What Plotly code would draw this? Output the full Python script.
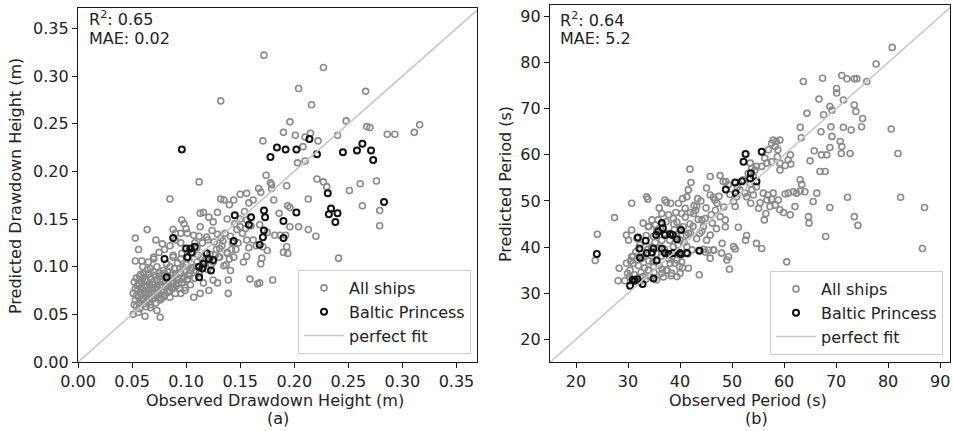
import plotly.graph_objects as go

# ---------------- Panel (a): drawdown height (m) ----------------
a_all_ships = [
    (0.172, 0.322), (0.227, 0.309), (0.132, 0.274), (0.204, 0.287), (0.216, 0.270), (0.266, 0.284),
    (0.248, 0.253), (0.196, 0.252), (0.316, 0.249), (0.311, 0.241), (0.286, 0.239), (0.293, 0.239),
    (0.267, 0.247), (0.270, 0.246), (0.240, 0.238), (0.190, 0.241), (0.201, 0.238), (0.210, 0.236),
    (0.215, 0.240), (0.222, 0.232), (0.171, 0.232), (0.203, 0.209), (0.210, 0.211), (0.208, 0.226),
    (0.221, 0.192), (0.227, 0.189), (0.230, 0.184), (0.251, 0.180), (0.261, 0.187), (0.276, 0.190),
    (0.263, 0.164), (0.279, 0.159), (0.279, 0.143), (0.241, 0.109), (0.213, 0.171), (0.220, 0.132),
    (0.213, 0.139), (0.204, 0.142), (0.196, 0.142), (0.192, 0.133), (0.193, 0.121), (0.194, 0.114),
    (0.190, 0.115), (0.174, 0.196), (0.179, 0.186), (0.178, 0.188), (0.179, 0.182), (0.167, 0.182),
    (0.169, 0.178), (0.193, 0.185), (0.181, 0.170), (0.194, 0.164), (0.196, 0.162), (0.186, 0.156),
    (0.162, 0.170), (0.158, 0.167), (0.156, 0.177), (0.150, 0.176), (0.144, 0.170), (0.140, 0.165),
    (0.135, 0.170), (0.132, 0.171), (0.154, 0.158), (0.156, 0.149), (0.116, 0.157), (0.121, 0.152),
    (0.129, 0.157), (0.138, 0.150), (0.147, 0.139), (0.150, 0.142), (0.152, 0.135), (0.156, 0.128),
    (0.168, 0.144), (0.175, 0.136), (0.182, 0.133), (0.187, 0.133), (0.162, 0.128), (0.165, 0.122),
    (0.175, 0.117), (0.171, 0.121), (0.170, 0.109), (0.169, 0.103), (0.156, 0.111), (0.153, 0.105),
    (0.159, 0.087), (0.166, 0.082), (0.168, 0.083), (0.180, 0.086), (0.139, 0.086), (0.129, 0.083),
    (0.141, 0.096), (0.137, 0.102), (0.144, 0.110), (0.138, 0.114), (0.131, 0.110), (0.110, 0.100),
    (0.104, 0.096), (0.101, 0.087), (0.085, 0.171), (0.112, 0.189), (0.125, 0.147), (0.129, 0.134),
    (0.124, 0.138), (0.119, 0.131), (0.113, 0.142), (0.107, 0.133), (0.101, 0.135), (0.088, 0.139),
    (0.090, 0.135), (0.095, 0.125), (0.078, 0.124), (0.072, 0.128), (0.064, 0.139), (0.056, 0.118),
    (0.053, 0.130), (0.053, 0.106), (0.059, 0.106), (0.096, 0.114), (0.088, 0.110), (0.082, 0.103),
    (0.070, 0.108), (0.073, 0.100), (0.075, 0.093), (0.088, 0.093), (0.092, 0.086), (0.099, 0.075),
    (0.095, 0.072), (0.082, 0.089), (0.084, 0.079), (0.076, 0.065), (0.073, 0.054), (0.067, 0.057),
    (0.062, 0.048), (0.076, 0.047), (0.056, 0.052), (0.051, 0.050), (0.125, 0.086), (0.116, 0.083),
    (0.121, 0.075), (0.113, 0.072), (0.107, 0.068), (0.139, 0.072), (0.096, 0.149), (0.098, 0.145),
    (0.113, 0.156),
    (0.052, 0.060), (0.053, 0.065), (0.054, 0.070), (0.055, 0.075), (0.055, 0.080), (0.056, 0.068),
    (0.057, 0.062), (0.058, 0.072), (0.058, 0.078), (0.059, 0.084), (0.060, 0.066), (0.060, 0.088),
    (0.061, 0.074), (0.062, 0.070), (0.062, 0.080), (0.063, 0.058), (0.063, 0.085), (0.064, 0.064),
    (0.065, 0.076), (0.065, 0.092), (0.066, 0.071), (0.066, 0.082), (0.067, 0.060), (0.068, 0.078),
    (0.068, 0.087), (0.069, 0.066), (0.070, 0.073), (0.070, 0.095), (0.071, 0.081), (0.072, 0.062),
    (0.072, 0.069), (0.073, 0.086), (0.074, 0.076), (0.075, 0.072), (0.075, 0.090), (0.076, 0.080),
    (0.077, 0.067), (0.078, 0.084), (0.079, 0.075), (0.080, 0.070), (0.080, 0.093), (0.081, 0.079),
    (0.082, 0.087), (0.083, 0.073), (0.084, 0.082), (0.085, 0.068), (0.086, 0.091), (0.087, 0.077),
    (0.088, 0.084), (0.089, 0.098), (0.090, 0.072), (0.091, 0.080), (0.092, 0.088), (0.094, 0.077),
    (0.095, 0.094), (0.096, 0.083), (0.098, 0.090), (0.099, 0.078), (0.100, 0.102), (0.101, 0.086),
    (0.103, 0.093), (0.104, 0.081), (0.106, 0.099), (0.108, 0.088), (0.110, 0.105), (0.112, 0.093),
    (0.114, 0.110), (0.116, 0.100), (0.118, 0.108), (0.120, 0.097), (0.122, 0.113), (0.125, 0.105),
    (0.128, 0.118), (0.130, 0.110), (0.133, 0.122), (0.135, 0.101), (0.138, 0.115), (0.140, 0.108),
    (0.143, 0.125), (0.146, 0.118), (0.060, 0.100), (0.065, 0.105), (0.070, 0.110), (0.075, 0.115),
    (0.080, 0.118), (0.085, 0.122), (0.090, 0.128), (0.095, 0.135), (0.100, 0.140), (0.103, 0.118),
    (0.108, 0.125), (0.112, 0.132), (0.095, 0.108), (0.088, 0.112), (0.092, 0.104), (0.097, 0.100),
    (0.102, 0.110), (0.106, 0.114), (0.110, 0.120), (0.115, 0.125), (0.120, 0.128), (0.126, 0.126),
    (0.132, 0.130), (0.136, 0.135), (0.141, 0.132), (0.145, 0.145), (0.150, 0.150), (0.155, 0.140),
    (0.160, 0.143), (0.148, 0.125), (0.158, 0.120), (0.085, 0.100), (0.079, 0.096), (0.067, 0.098),
    (0.058, 0.092), (0.054, 0.088), (0.057, 0.056), (0.061, 0.061), (0.066, 0.067), (0.071, 0.077),
    (0.051, 0.072), (0.052, 0.084), (0.053, 0.077), (0.054, 0.058), (0.056, 0.082), (0.057, 0.090),
    (0.059, 0.064), (0.060, 0.076), (0.061, 0.093), (0.062, 0.086), (0.063, 0.073), (0.064, 0.079),
    (0.064, 0.097), (0.066, 0.063), (0.067, 0.089), (0.068, 0.072), (0.069, 0.084), (0.070, 0.067),
    (0.071, 0.091), (0.073, 0.079), (0.074, 0.070), (0.076, 0.087), (0.077, 0.074), (0.078, 0.091),
    (0.079, 0.068), (0.081, 0.085), (0.083, 0.095), (0.085, 0.075), (0.086, 0.083), (0.088, 0.078),
    (0.090, 0.091), (0.093, 0.083), (0.094, 0.098), (0.097, 0.087), (0.099, 0.095), (0.102, 0.091),
    (0.105, 0.104), (0.109, 0.096), (0.111, 0.112), (0.117, 0.106), (0.123, 0.102), (0.127, 0.112),
    (0.131, 0.119), (0.134, 0.127), (0.142, 0.118),
]

a_baltic_princess = [
    (0.096, 0.223), (0.214, 0.234), (0.178, 0.215), (0.184, 0.225), (0.192, 0.223), (0.202, 0.223),
    (0.221, 0.218), (0.245, 0.220), (0.258, 0.222), (0.263, 0.229), (0.271, 0.222), (0.273, 0.212),
    (0.231, 0.177), (0.283, 0.168), (0.234, 0.161), (0.232, 0.155), (0.240, 0.156), (0.238, 0.147),
    (0.202, 0.157), (0.190, 0.148), (0.190, 0.130), (0.172, 0.159), (0.173, 0.152), (0.172, 0.138),
    (0.171, 0.131), (0.168, 0.123), (0.160, 0.152), (0.158, 0.144), (0.145, 0.154), (0.144, 0.127),
    (0.088, 0.130), (0.080, 0.108), (0.082, 0.089), (0.112, 0.089), (0.123, 0.096), (0.100, 0.119),
    (0.104, 0.119), (0.108, 0.121), (0.101, 0.110), (0.105, 0.115), (0.112, 0.100), (0.116, 0.103),
    (0.119, 0.114), (0.121, 0.108), (0.115, 0.098), (0.125, 0.107),
]

a_perfect_fit = [0.0, 0.372]

# ---------------- Panel (b): period (s) ----------------
b_all_ships = [
    (80.8, 83.3), (77.7, 79.7), (71.1, 77.2), (72.1, 76.5), (73.5, 76.5), (74.0, 76.5), (75.9, 75.9),
    (63.7, 75.9), (67.4, 76.6), (70.1, 74.4), (70.1, 73.4), (71.4, 71.9), (66.7, 72.1), (63.1, 66.0),
    (64.4, 69.0), (67.6, 68.7), (68.8, 70.5), (69.2, 69.7), (73.5, 70.8), (73.8, 69.4), (75.1, 67.9),
    (74.9, 66.1), (71.4, 66.0), (72.9, 65.4), (69.0, 66.1), (67.1, 65.0), (80.6, 65.6), (81.9, 60.3),
    (69.2, 64.0), (70.8, 62.9), (71.1, 61.8), (71.0, 60.3), (72.7, 60.3), (68.8, 61.6), (68.2, 60.0),
    (67.2, 60.0), (66.9, 56.4), (67.9, 56.4), (65.8, 60.9), (65.0, 58.7), (63.3, 63.7), (61.2, 60.0),
    (60.8, 58.9), (61.3, 58.0), (60.2, 57.7), (59.2, 56.7), (59.2, 58.2), (58.7, 59.6), (57.9, 63.2),
    (57.6, 62.5), (58.5, 62.9), (58.3, 61.8), (58.8, 61.1), (59.2, 63.2), (57.0, 61.1), (57.6, 58.5),
    (56.7, 58.2), (56.3, 59.3), (55.7, 57.5), (54.7, 57.5), (54.4, 56.7), (53.5, 58.2), (53.8, 57.1),
    (53.1, 56.0), (54.1, 55.4), (52.2, 54.6), (53.5, 53.7), (54.7, 53.1), (53.8, 52.4), (51.5, 52.4),
    (52.5, 51.7), (52.8, 50.9), (54.1, 51.3), (53.6, 49.5), (50.9, 50.9), (50.3, 49.9), (50.6, 48.8),
    (49.3, 53.5), (48.8, 54.2), (47.7, 55.5), (48.3, 54.2), (46.7, 50.2), (47.1, 49.5), (45.8, 55.3),
    (45.1, 52.8), (45.8, 51.3), (46.4, 50.8), (47.7, 46.6), (48.7, 45.9), (48.7, 44.4), (48.1, 40.8),
    (49.3, 37.9), (49.5, 35.2), (50.3, 40.1), (50.6, 39.6), (52.8, 42.5), (52.6, 41.5), (51.2, 44.3),
    (54.7, 40.8), (55.7, 39.7), (41.9, 56.9), (42.1, 54.0), (41.6, 52.4), (41.3, 50.9), (43.2, 48.8),
    (42.6, 47.3), (44.2, 45.9), (44.5, 44.4), (43.8, 43.0), (45.8, 42.6), (45.1, 41.5), (46.4, 39.4),
    (39.7, 49.5), (41.0, 48.4), (40.3, 47.3), (38.7, 46.2), (39.4, 45.4), (40.6, 44.4), (41.6, 43.0),
    (40.0, 41.5), (41.3, 40.1), (37.1, 50.2), (37.4, 49.7), (36.5, 47.3), (35.8, 45.9), (33.6, 50.9),
    (33.8, 50.4), (30.7, 49.5), (27.4, 46.4), (24.1, 42.8), (23.7, 37.1), (28.3, 35.4), (28.1, 32.7),
    (29.4, 32.7), (30.3, 33.6), (29.9, 34.3), (30.4, 35.0), (29.7, 36.5), (31.0, 36.5), (31.7, 37.2),
    (30.7, 37.9), (30.1, 41.5), (29.7, 42.6), (30.7, 43.7), (31.7, 41.9), (32.9, 45.2), (33.9, 44.4),
    (34.6, 45.9), (35.5, 43.7), (34.9, 42.3), (36.5, 41.5), (37.1, 43.0), (38.1, 43.0), (39.4, 42.3),
    (38.7, 40.1), (40.0, 38.7), (39.4, 37.2), (38.1, 36.5), (37.4, 35.0), (36.5, 34.3), (38.4, 34.3),
    (39.4, 33.6), (40.0, 34.3), (39.9, 35.8), (34.9, 35.8), (33.9, 35.0), (32.9, 33.6), (34.2, 33.6),
    (35.5, 32.9), (32.3, 32.5), (41.6, 35.4), (43.7, 34.0), (45.8, 37.6), (48.0, 38.7), (49.0, 37.2),
    (60.5, 36.8), (68.0, 42.3), (86.6, 39.7), (87.0, 48.6), (82.4, 50.8), (72.2, 50.8), (74.2, 44.7),
    (73.5, 46.6), (68.8, 48.6), (64.8, 45.2), (64.7, 46.6), (65.6, 49.9), (66.3, 51.7), (63.1, 52.2),
    (63.4, 53.6), (63.1, 54.6), (64.0, 52.0), (62.4, 51.7), (61.8, 52.0), (60.8, 51.7), (60.2, 51.5),
    (61.2, 47.0), (59.9, 47.5), (59.2, 48.1), (57.3, 48.8), (56.7, 50.2), (56.0, 51.7), (57.6, 50.4),
    (58.9, 50.2), (58.3, 49.1), (56.5, 47.3), (56.2, 45.9), (55.4, 49.6), (55.1, 48.4), (62.1, 48.8),
    (56.9, 51.3), (57.9, 51.7),
    (31.5, 39.0), (32.0, 36.0), (32.5, 34.5), (33.0, 38.0), (33.5, 42.5), (34.0, 37.0), (34.5, 40.0),
    (35.0, 34.5), (35.5, 38.5), (36.0, 36.0), (36.2, 44.0), (36.8, 33.5), (37.0, 39.5), (37.5, 35.0),
    (38.0, 41.5), (38.3, 33.8), (38.8, 45.0), (39.0, 36.5), (39.5, 39.0), (40.0, 44.0), (40.5, 35.5),
    (41.0, 46.5), (41.5, 38.5), (42.0, 47.5), (42.5, 44.5), (43.0, 48.0), (43.5, 46.0), (44.0, 50.0),
    (44.5, 39.5), (45.0, 48.5), (45.5, 39.3), (46.0, 47.0), (46.5, 39.3), (47.0, 44.0), (37.8, 47.0),
    (39.2, 47.5), (35.2, 41.0), (33.2, 35.5), (36.4, 38.0), (38.5, 38.0), (40.8, 41.0), (42.0, 43.0),
    (43.2, 41.8), (44.2, 43.5), (34.0, 44.5), (32.3, 40.5), (31.0, 38.0), (36.0, 48.5), (38.2, 49.5),
    (40.5, 50.5),
    (30.5, 37.0), (31.2, 34.0), (32.6, 37.5), (33.4, 33.0), (33.8, 39.5), (34.8, 36.8), (35.3, 44.8),
    (35.9, 39.8), (36.6, 35.2), (37.3, 45.5), (37.9, 37.4), (38.9, 43.8), (39.6, 40.5), (40.3, 36.8),
    (41.2, 42.6), (41.9, 45.0), (42.7, 49.0), (43.4, 50.5), (44.8, 46.2), (46.8, 48.0), (42.3, 39.4),
    (43.9, 39.2), (44.9, 38.9), (46.2, 45.2), (47.5, 51.0), (48.4, 48.7), (49.6, 51.4), (51.0, 53.0),
]

b_baltic_princess = [
    (24.0, 38.5), (31.9, 42.1), (32.2, 39.7), (32.3, 37.7), (33.4, 41.4), (34.9, 39.7), (34.6, 38.8),
    (33.6, 38.7), (36.5, 45.2), (35.8, 43.4), (36.7, 44.1), (37.1, 42.6), (38.1, 42.8), (38.6, 42.6),
    (35.4, 42.6), (36.5, 39.7), (37.1, 38.7), (37.8, 38.5), (38.7, 38.7), (40.2, 43.7), (39.4, 41.7),
    (39.9, 38.7), (40.2, 38.5), (41.3, 38.7), (43.7, 39.2), (35.5, 37.1), (30.4, 31.6), (30.9, 32.9),
    (31.3, 32.7), (31.8, 33.0), (32.8, 32.0), (34.9, 33.2), (52.6, 60.2), (55.7, 60.7), (52.2, 58.5),
    (48.8, 52.5), (50.7, 51.7), (50.6, 54.0), (51.9, 54.3), (53.6, 56.0), (53.5, 54.9), (54.7, 54.2),
]

b_perfect_fit = [15.0, 92.5]

a_ticks = [0.00, 0.05, 0.10, 0.15, 0.20, 0.25, 0.30, 0.35]
b_ticks = [20, 30, 40, 50, 60, 70, 80, 90]

FONT = "DejaVu Sans"
TXT = "#222222"
GRAY = "#8a8a8a"
BLACK = "#111111"
FIT = "#c8c8c8"

fig = go.Figure()


def add_panel(all_pts, bp_pts, fit, xa, ya, leg):
    fig.add_trace(go.Scatter(
        x=[p[0] for p in all_pts], y=[p[1] for p in all_pts], mode="markers", name="All ships",
        xaxis=xa, yaxis=ya, legend=leg,
        marker=dict(symbol="circle-open", size=6, color=GRAY, line=dict(width=1.6, color=GRAY))))
    fig.add_trace(go.Scatter(
        x=[p[0] for p in bp_pts], y=[p[1] for p in bp_pts], mode="markers", name="Baltic Princess",
        xaxis=xa, yaxis=ya, legend=leg,
        marker=dict(symbol="circle-open", size=6, color=BLACK, line=dict(width=2, color=BLACK))))
    fig.add_trace(go.Scatter(
        x=fit, y=fit, mode="lines", name="perfect fit", xaxis=xa, yaxis=ya, legend=leg,
        line=dict(color=FIT, width=1.6)))


add_panel(a_all_ships, a_baltic_princess, a_perfect_fit, "x", "y", "legend")
add_panel(b_all_ships, b_baltic_princess, b_perfect_fit, "x2", "y2", "legend2")

axis_common = dict(showgrid=False, zeroline=False, showline=True, mirror=True, linecolor="#1a1a1a",
                   linewidth=1.3, ticks="outside", ticklen=5, tickwidth=1.2, tickcolor="#1a1a1a",
                   tickfont=dict(family=FONT, size=16, color=TXT))

L, T, W, H = 78, 5, 872, 357


def px(xp):
    return (xp - L) / W


def py(yp):
    return (T + H - yp) / H


leg_common = dict(bgcolor="white", bordercolor="#cccccc", borderwidth=1, xanchor="right",
                  yanchor="bottom", itemwidth=40, tracegroupgap=0,
                  font=dict(family=FONT, size=16, color=TXT))

fig.update_layout(
    width=953, height=431,
    margin=dict(l=L, r=953 - L - W, t=T, b=431 - T - H),
    paper_bgcolor="white", plot_bgcolor="white",
    font=dict(family=FONT, size=16, color=TXT),
    xaxis=dict(domain=[0, px(477)], range=[0, 0.369], tickvals=a_ticks, tickformat=".2f",
               anchor="y", **axis_common),
    yaxis=dict(domain=[0, py(7.5)], range=[0, 0.372], tickvals=a_ticks, tickformat=".2f",
               anchor="x", **axis_common),
    xaxis2=dict(domain=[px(550), 1], range=[15.0, 91.9], tickvals=b_ticks, anchor="y2",
                **axis_common),
    yaxis2=dict(domain=[0, 1], range=[15.08, 92.5], tickvals=b_ticks, anchor="x2",
                **axis_common),
    legend=dict(x=px(471), y=py(354), **leg_common),
    legend2=dict(x=px(943), y=py(355), **leg_common),
    showlegend=True,
)

annots = [
    ("R<sup>2</sup>: 0.65", 87, 19, 0, "left"),
    ("MAE: 0.02", 87, 38, 0, "left"),
    ("R<sup>2</sup>: 0.64", 558, 20, 0, "left"),
    ("MAE: 5.2", 558, 38.5, 0, "left"),
    ("Observed Drawdown Height (m)", 275, 400, 0, "center"),
    ("(a)", 278, 419, 0, "center"),
    ("Observed Period (s)", 748, 400, 0, "center"),
    ("(b)", 756, 419, 0, "center"),
    ("Predicted Drawdown Height (m)", 15, 186, -90, "center"),
    ("Predicted Period (s)", 505, 184, -90, "center"),
]
for text, xp, yp, ang, anc in annots:
    fig.add_annotation(text=text, xref="paper", yref="paper", x=px(xp), y=py(yp),
                       xanchor=anc, yanchor="middle", textangle=ang, showarrow=False,
                       font=dict(family=FONT, size=16, color=TXT))

fig.write_html("out.html", config={"displayModeBar": False},
               post_script="document.body.style.margin='0';document.body.style.overflow='hidden';")
